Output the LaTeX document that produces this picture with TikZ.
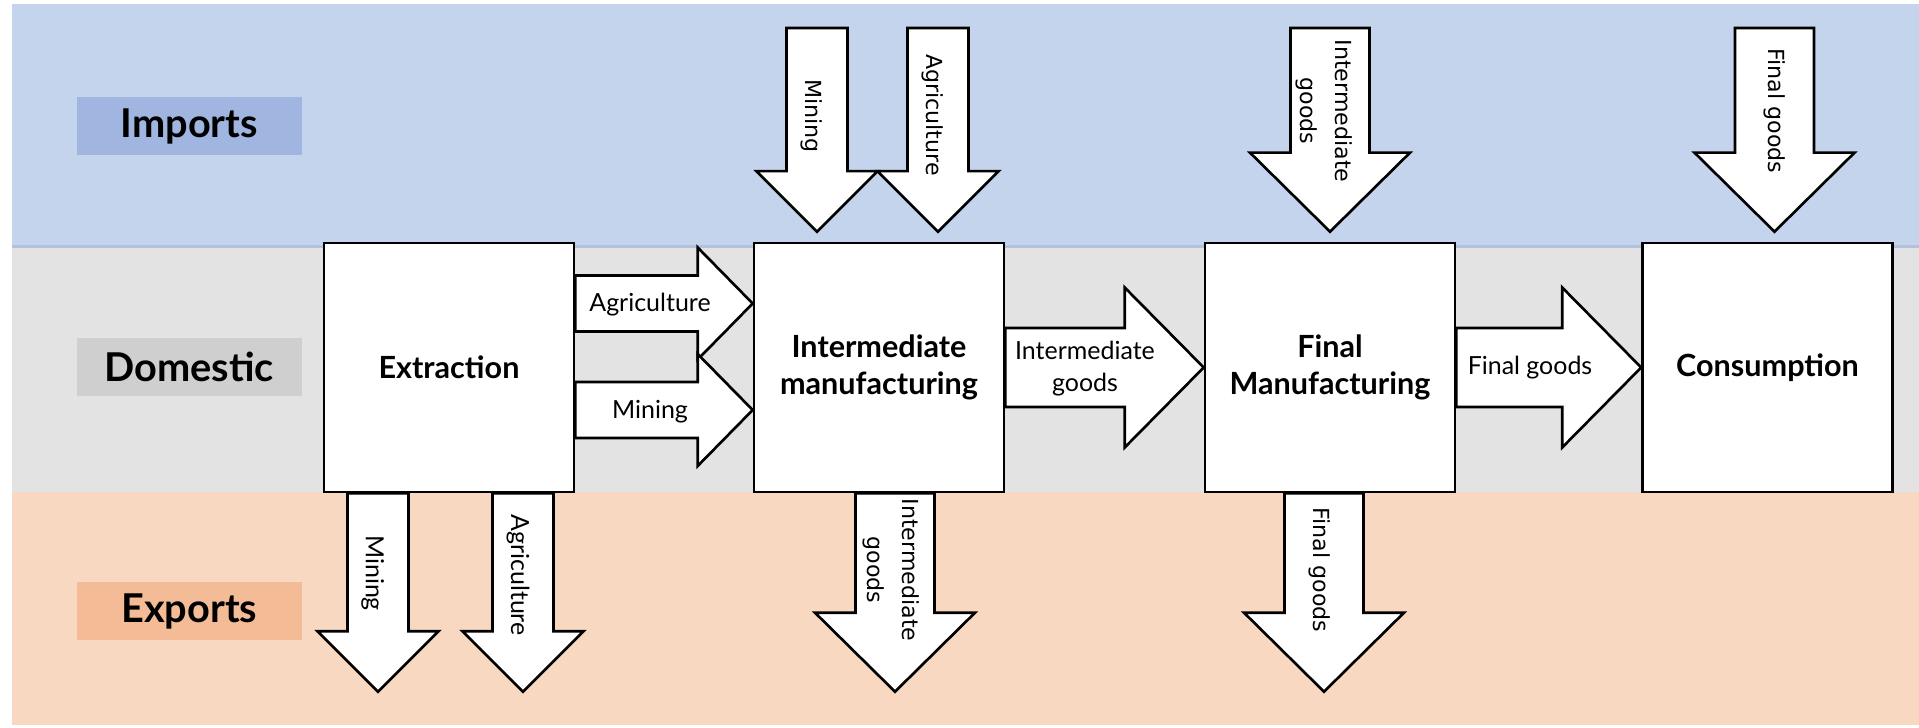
\documentclass[tikz,border=0pt]{standalone}
\usepackage{fontspec}
\setmainfont{Lato}
\newfontfamily\vfont{DejaVu Sans}
\usetikzlibrary{calc}

\definecolor{impband}{RGB}{197,212,237}
\definecolor{impline}{RGB}{178,194,220}
\definecolor{imptag}{RGB}{160,182,224}
\definecolor{domband}{RGB}{227,227,227}
\definecolor{domtag}{RGB}{207,207,207}
\definecolor{expband}{RGB}{248,216,193}
\definecolor{exptag}{RGB}{244,188,150}

\begin{document}
\begin{tikzpicture}[
    stage/.style={draw=black, line width=0.75pt, fill=white,
        minimum width=2.5cm, minimum height=2.49cm, inner sep=2pt, align=center,
        font=\fontsize{8.7}{10.4}\selectfont\bfseries},
    tag/.style={minimum width=2.25cm, minimum height=0.58cm, inner sep=0pt,
        font=\fontsize{11.3}{13}\selectfont\bfseries},
    note/.style={align=center, inner sep=0pt, font=\fontsize{7.1}{9.1}\selectfont},
    vnote/.style={align=center, inner sep=0pt, rotate=-90,
        font=\vfont\fontsize{6.3}{10}\selectfont},
    flow/.style n args={3}{draw=black, line width=0.75pt, fill=white,
        to path={let \p1=(\tikztostart), \p2=(\tikztotarget),
            \p3=($(\p2)!#3!(\p1)$) in
            ($(\p1)!#1!90:(\p2)$) -- ($(\p3)!#1!90:(\p2)$)
            -- ($(\p3)!#2!90:(\p2)$) -- (\p2)
            -- ($(\p3)!#2!-90:(\p2)$) -- ($(\p3)!#1!-90:(\p2)$)
            -- ($(\p1)!#1!-90:(\p2)$) -- cycle}},
    rawflow/.style={flow={0.28cm}{0.56cm}{0.55cm}},
    smallflow/.style={flow={0.305cm}{0.605cm}{0.605cm}},
    bigflow/.style={flow={0.395cm}{0.8cm}{0.79cm}}
]
    \useasboundingbox (0,0) rectangle (19.19,7.27);

    % bands
    \fill[impband] (0.12,4.82) rectangle (19.19,7.23);
    \fill[domband] (0.12,2.35) rectangle (19.19,4.82);
    \fill[expband] (0.12,0.02) rectangle (19.19,2.35);
    \draw[impline, line width=1.1pt] (0.12,4.805) -- (19.19,4.805);

    \node[tag, fill=imptag] (imports) at (1.893,6.005) {Imports};
    \node[tag, fill=domtag] (domestic) at (1.893,3.597) {Domestic};
    \node[tag, fill=exptag] (exports) at (1.893,1.16) {Exports};

    % stages
    \node[stage] (ext) at (4.49,3.595) {Extraction};
    \node[stage] (mid) at (8.79,3.595) {Intermediate\\manufacturing};
    \node[stage] (fin) at (13.30,3.595) {Final\\Manufacturing};
    \node[stage] (con) at (17.675,3.595) {Consumption};

    % domestic flows
    \draw[rawflow] ([yshift=0.64cm]ext.east) to ([yshift=0.64cm]mid.west);
    \draw[rawflow] ([yshift=-0.425cm]ext.east) to ([yshift=-0.425cm]mid.west);
    \draw[bigflow] (mid.east) to (fin.west);
    \draw[bigflow] (fin.east) to (con.west);

    \node[note] (agr) at (6.50,4.22) {Agriculture};
    \node[note] (min) at (6.50,3.155) {Mining};
    \node[note] (intg) at (10.85,3.58) {Intermediate\\goods};
    \node[note] (fing) at (15.30,3.59) {Final goods};

    % imports
    \coordinate (inmin) at (8.17,6.99);
    \coordinate (inagr) at (9.38,6.99);
    \coordinate (inint) at (13.30,6.99);
    \coordinate (infin) at (17.745,6.99);
    \draw[smallflow] (inmin) to ([xshift=-0.62cm,yshift=0.1cm]mid.north);
    \draw[smallflow] (inagr) to ([xshift=0.59cm,yshift=0.1cm]mid.north);
    \draw[bigflow] (inint) to ([yshift=0.1cm]fin.north);
    \draw[bigflow] (infin) to ([xshift=0.07cm,yshift=0.1cm]con.north);

    \node[vnote] (inminl) at (8.117,6.11) {Mining};
    \node[vnote] (inagrl) at (9.33,6.12) {Agriculture};
    \node[vnote] (inintl) at (13.24,6.16) {Intermediate\\goods};
    \node[vnote] (infinl) at (17.75,6.16) {Final goods};

    % exports
    \coordinate (outmin) at (3.78,0.353);
    \coordinate (outagr) at (5.23,0.353);
    \coordinate (outint) at (8.95,0.353);
    \coordinate (outfin) at (13.24,0.353);
    \draw[smallflow] ([xshift=-0.71cm]ext.south) to (outmin);
    \draw[smallflow] ([xshift=0.74cm]ext.south) to (outagr);
    \draw[bigflow] ([xshift=0.16cm]mid.south) to (outint);
    \draw[bigflow] ([xshift=-0.06cm]fin.south) to (outfin);

    \node[note, rotate=-90] (outminl) at (3.727,1.54) {Mining};
    \node[note, rotate=-90] (outagrl) at (5.18,1.52) {Agriculture};
    \node[vnote] (outintl) at (8.91,1.57) {Intermediate\\goods};
    \node[vnote] (outfinl) at (13.20,1.57) {Final goods};
\end{tikzpicture}
\end{document}
